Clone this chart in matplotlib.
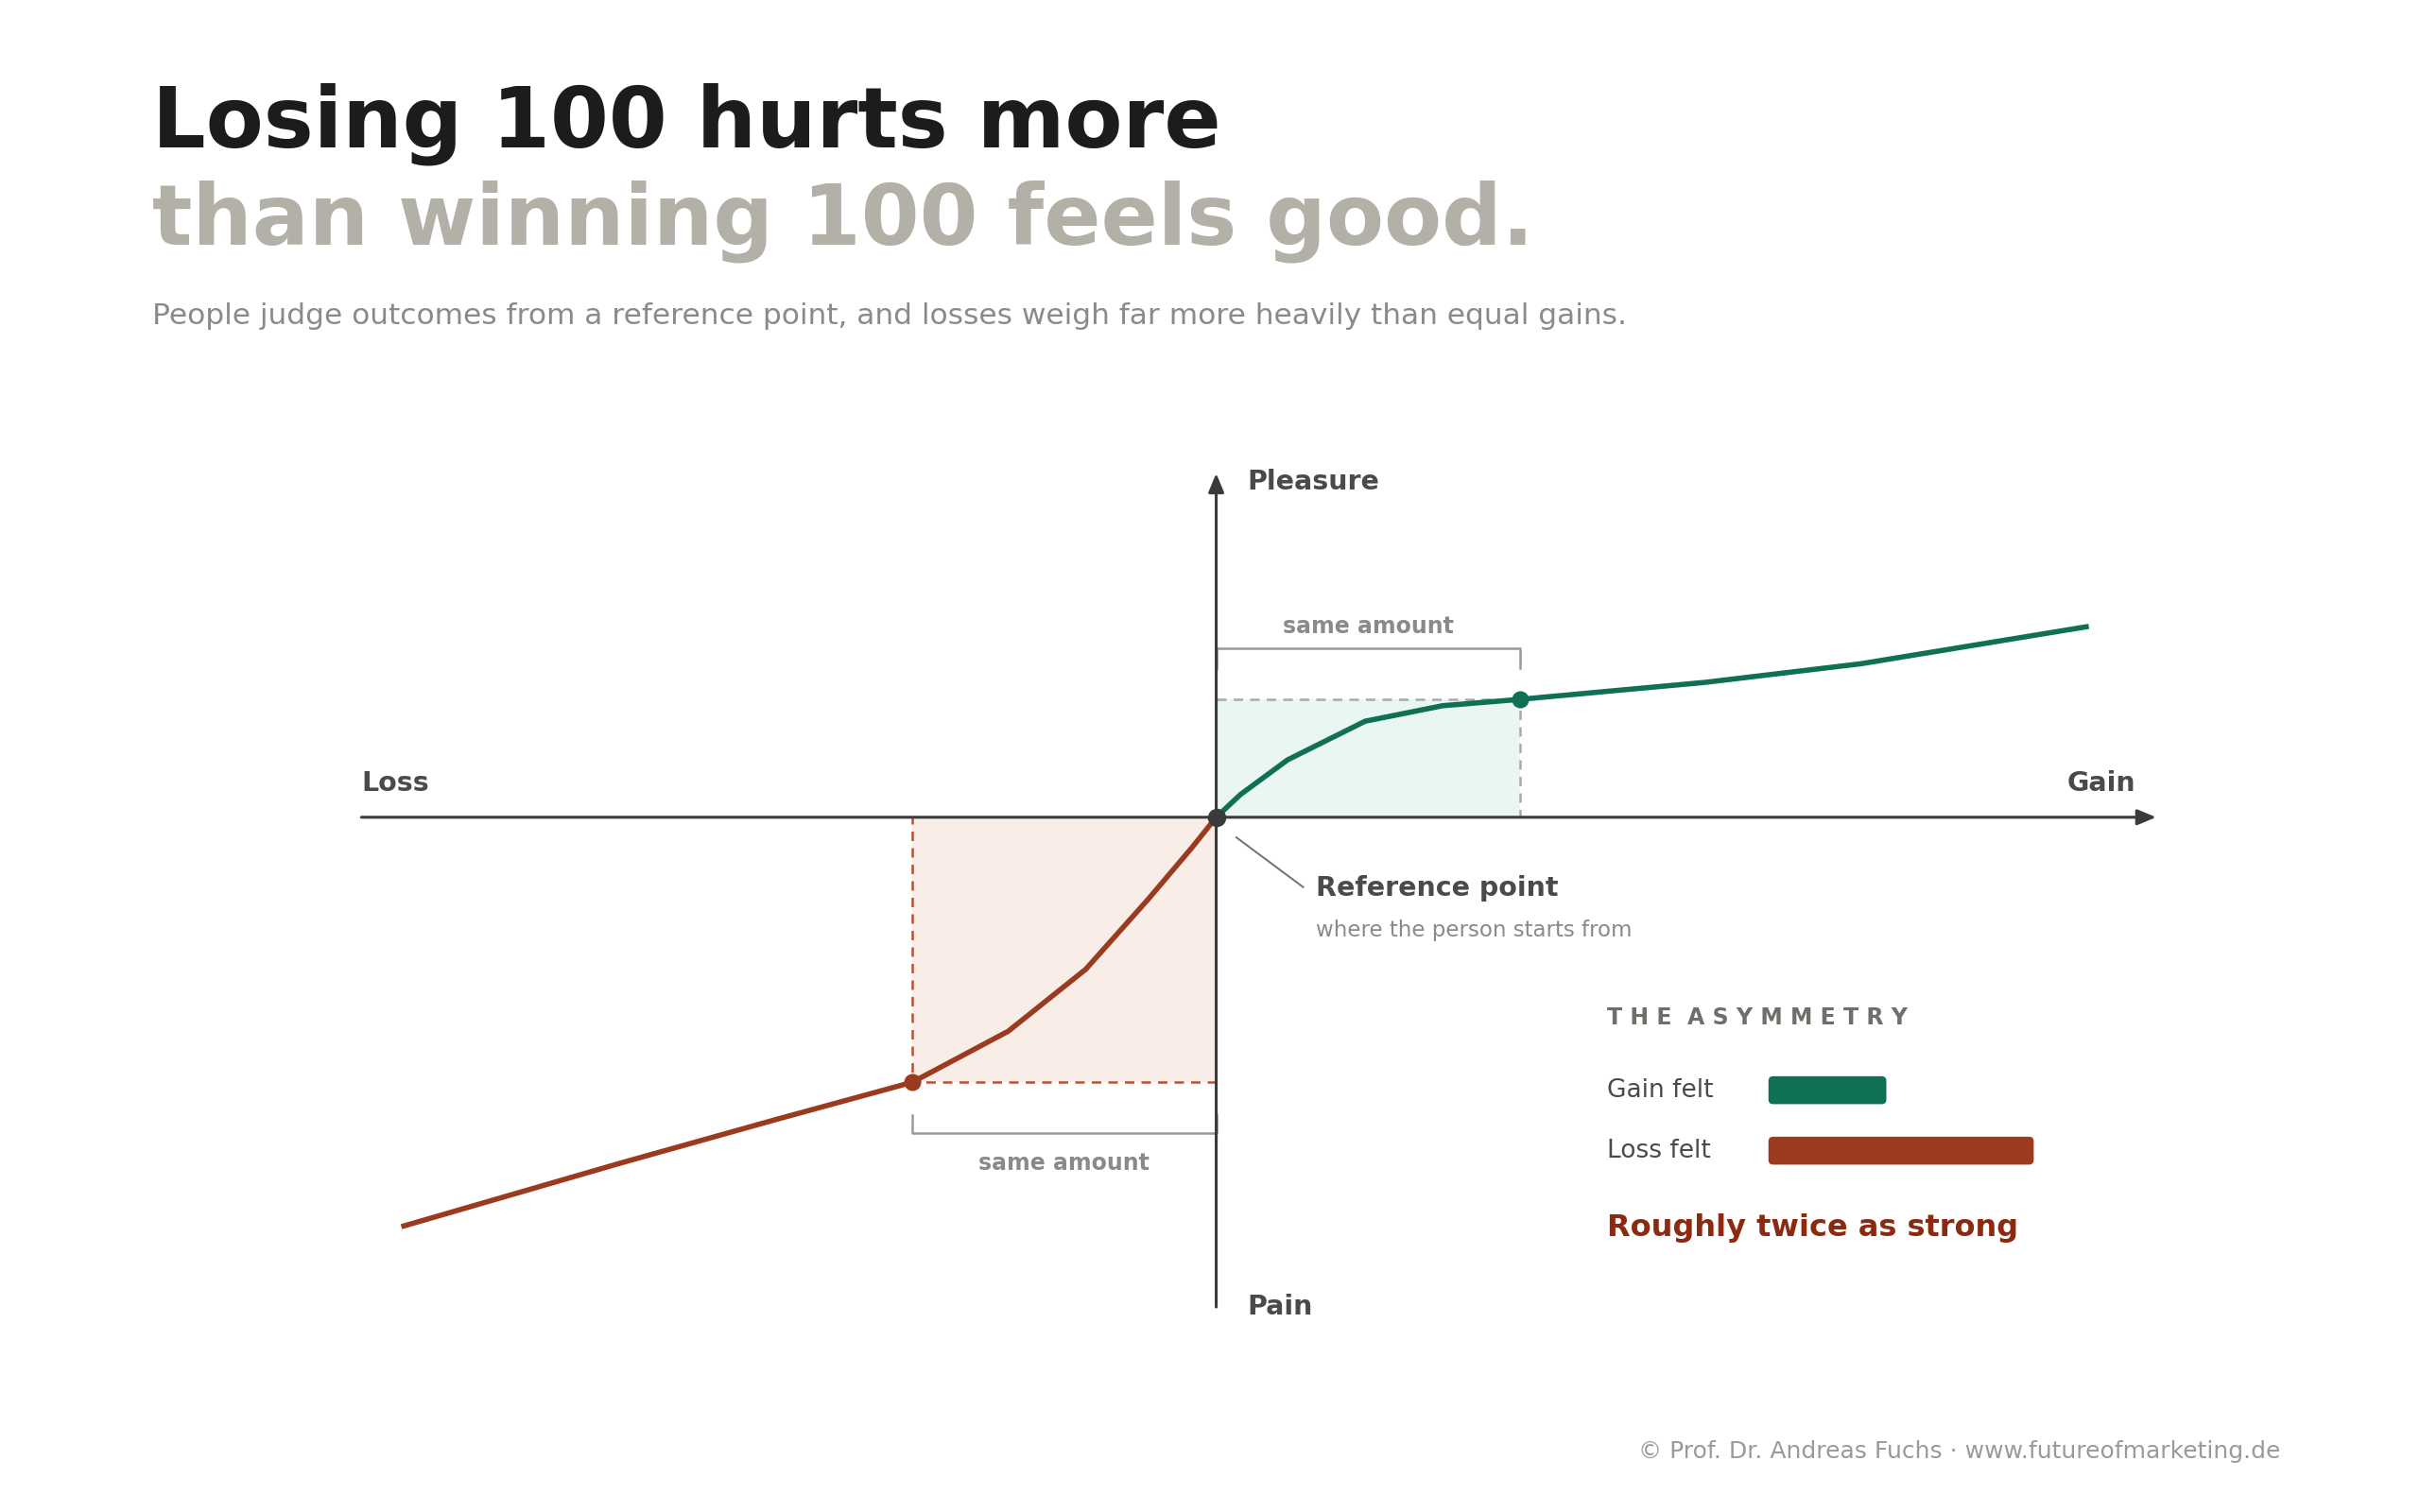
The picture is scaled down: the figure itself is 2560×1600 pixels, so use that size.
import matplotlib
matplotlib.use("Agg")
import matplotlib.pyplot as plt
from matplotlib.patches import FancyBboxPatch, Rectangle

# ---- data (value units; reference point at 0,0) ----
gain_x = [0, 8, 23.5, 49, 74.5, 100, 161, 212, 287]
gain_y = [0, 7.5, 18.9, 31.6, 36.7, 38.8, 44.4, 50.5, 62.8]
loss_x = [-268, -196, -145, -100, -68.4, -42.9, -22.4, -8, 0]
loss_y = [-134.7, -113.8, -99.5, -87.2, -70.4, -50, -27, -10, 0]
amount = 100
gain_felt = 38.8
loss_felt = -87.2
bar_labels = ["Gain felt", "Loss felt"]
bar_values = [1.0, 2.25]

GREEN = "#0f7055"; RED = "#9a3a1e"; DARK = "#3a3a3a"
W, H = 1560, 975
S = 1.96  # px per unit
OX, OY = 784, 527

fig = plt.figure(figsize=(25.6, 16), dpi=100)
fig.patch.set_facecolor("white")
tx = fig.add_axes([0, 0, 1, 1]); tx.set_xlim(0, W); tx.set_ylim(H, 0); tx.axis("off")
ax = fig.add_axes([0, 0, 1, 1], facecolor="none")
ax.set_xlim(-OX / S, (W - OX) / S); ax.set_ylim(-(H - OY) / S, OY / S); ax.axis("off")

# fills
ax.add_patch(Rectangle((0, 0), amount, gain_felt, color="#eaf6f1", lw=0))
ax.add_patch(Rectangle((-amount, loss_felt), amount, -loss_felt, color="#f9ede8", lw=0))
ax.plot([0, amount, amount], [gain_felt, gain_felt, 0], ls=(0, (4, 3)), color="#aaaaaa", lw=1.8)
ax.plot([0, -amount, -amount], [loss_felt, loss_felt, 0], ls=(0, (4, 3)), color="#b5533a", lw=1.8)

# axes arrows
ax.annotate("", xy=(310, 0), xytext=(-282, 0),
            arrowprops=dict(arrowstyle="-|>,head_length=1.2,head_width=0.5", color=DARK, lw=2.2))
ax.annotate("", xy=(0, 114), xytext=(0, -162),
            arrowprops=dict(arrowstyle="-|>,head_length=1.2,head_width=0.5", color=DARK, lw=2.2))

# brackets
ax.plot([0, 0, amount, amount], [49, 55.5, 55.5, 49], color="#999999", lw=1.8)
ax.plot([0, 0, -amount, -amount], [-98, -104, -104, -98], color="#999999", lw=1.8)

# curves
ax.plot(gain_x, gain_y, color=GREEN, lw=4, solid_capstyle="butt")
ax.plot(loss_x, loss_y, color=RED, lw=4, solid_capstyle="butt")
ax.plot([amount], [gain_felt], "o", color=GREEN, ms=12)
ax.plot([-amount], [loss_felt], "o", color=RED, ms=12)
ax.plot([0], [0], "o", color=DARK, ms=13, zorder=5)

# texts
tx.text(98, 80, "Losing 100 hurts more", fontsize=64, weight="bold", color="#1c1c1c", va="center")
tx.text(98, 143, "than winning 100 feels good.", fontsize=64, weight="bold", color="#b3b0a8", va="center")
tx.text(98, 204, "People judge outcomes from a reference point, and losses weigh far more heavily than equal gains.",
        fontsize=22.5, color="#8a8a8a", va="center")
lab = dict(fontsize=20.5, weight="bold", color="#4a4a48", va="center")
tx.text(804, 311, "Pleasure", **lab)
tx.text(804, 843, "Pain", **lab)
tx.text(233, 505, "Loss", **lab)
tx.text(1377, 505, "Gain", ha="right", **{k: v for k, v in lab.items()})
tx.text(882, 404, "same amount", fontsize=17, weight="bold", color="#8a8a8a", ha="center", va="center")
tx.text(686, 750, "same amount", fontsize=17, weight="bold", color="#8a8a8a", ha="center", va="center")
tx.plot([797, 840], [540, 572], color="#777777", lw=1.5)
tx.text(848, 573, "Reference point", fontsize=20.5, weight="bold", color="#4a4a48", va="center")
tx.text(848, 600, "where the person starts from", fontsize=16.5, color="#8a8a8a", va="center")
tx.text(1036, 656, "T H E   A S Y M M E T R Y".replace("   ", "  "), fontsize=17, weight="bold",
        color="#6f6f6a", va="center")
for i, (lb, v) in enumerate(zip(bar_labels, bar_values)):
    yc = 703 + i * 39
    tx.text(1036, yc, lb, fontsize=19, color="#4a4a48", va="center")
    tx.add_patch(FancyBboxPatch((1140, yc - 9), 76 * v, 18, boxstyle="round,pad=0,rounding_size=3",
                                color=[GREEN, RED][i], lw=0))
tx.text(1036, 792, "Roughly twice as strong", fontsize=23, weight="bold", color="#8b2a10", va="center")
tx.text(1470, 936, "© Prof. Dr. Andreas Fuchs · www.futureofmarketing.de", fontsize=18,
        color="#9a9a9a", ha="right", va="center")

fig.savefig("out.png", dpi=100, facecolor="white")
